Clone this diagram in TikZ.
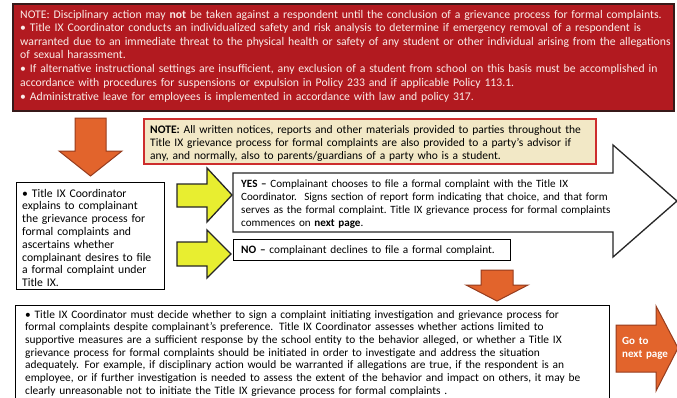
\documentclass[tikz,border=0pt]{standalone}
\usepackage{fontspec}
\setmainfont{Carlito}
\definecolor{boxred}{RGB}{178,26,32}
\definecolor{boxredborder}{RGB}{55,25,25}
\definecolor{notefill}{RGB}{242,232,198}
\definecolor{noteborder}{RGB}{205,45,45}
\definecolor{arroworange}{RGB}{226,100,44}
\definecolor{orangeborder}{RGB}{150,60,30}
\definecolor{arrowyellow}{RGB}{232,238,48}
\definecolor{redtext}{RGB}{250,236,232}
\begin{document}
\begin{tikzpicture}[x=1pt,y=-1pt,
  txt/.style={inner sep=0pt, anchor=base west, align=left, text width=#1},
  txt/.default=900pt,
  panel/.style={draw=black, line width=1.3pt, fill=white, inner sep=0pt, anchor=north west},
  blockarrow/.style={line width=1pt, line join=miter},
  orangearrow/.style={blockarrow, fill=arroworange, draw=orangeborder},
  yellowarrow/.style={blockarrow, fill=arrowyellow, draw=black!85, line width=1.3pt},
  redfont/.style={font=\fontsize{11.7}{13.6}\selectfont},
  bodyfont/.style={font=\fontsize{11.5}{13.1}\selectfont}]
\useasboundingbox (0,0) rectangle (677,397);
\fill[white] (0,0) rectangle (677,397);

% top red note
\node[panel, draw=boxredborder, fill=boxred, line width=1.6pt,
      minimum width=661pt, minimum height=107pt] (red) at (12,3) {};
\node[txt, redfont, text=redtext] (redtxt) at (20,18)
{NOTE: Disciplinary action may \textbf{not} be taken against a respondent until the conclusion of a grievance process for formal complaints.\\
• Title IX Coordinator conducts an individualized safety and risk analysis to determine if emergency removal of a respondent is\\
warranted due to an immediate threat to the physical health or safety of any student or other individual arising from the allegations\\
of sexual harassment.\\[0.5pt]
• If alternative instructional settings are insufficient, any exclusion of a student from school on this basis must be accomplished in\\
accordance with procedures for suspensions or expulsion in Policy 233 and if applicable Policy 113.1.\\[0.5pt]
• Administrative leave for employees is implemented in accordance with law and policy 317.};

% orange arrow below red box
\draw[orangearrow] (75,118) -- (106,118) -- (106,151) -- (122,151) -- (90.5,176)
  -- (59,151) -- (75,151) -- cycle;

% advisor note
\node[panel, draw=noteborder, fill=notefill, line width=2pt,
      minimum width=452pt, minimum height=45pt] (note) at (143,118) {};
\node[txt, bodyfont] (notetxt) at (150,133)
{\textbf{NOTE:} All written notices, reports and other materials provided to parties throughout the\\
Title IX grievance process for formal complaints are also provided to a party’s advisor if\\
any, and normally, also to parents/guardians of a party who is a student.};

% left box
\node[panel, minimum width=148pt, minimum height=107pt] (left) at (16,182) {};
\node[txt, font=\fontsize{11.7}{12.8}\selectfont] (lefttxt) at (22,197)
{• Title IX Coordinator\\
explains to complainant\\
the grievance process for\\
formal complaints and\\
ascertains whether\\
complainant desires to file\\
a formal complaint under\\
Title IX.};

% yellow arrows
\draw[yellowarrow] (177,184) -- (207,184) -- (207,168) -- (232,195) -- (207,222)
  -- (207,207) -- (177,207) -- cycle;
\draw[yellowarrow] (177,242) -- (207,242) -- (207,230) -- (231,254) -- (207,278)
  -- (207,266) -- (177,266) -- cycle;

% big white arrow with YES text
\draw[blockarrow, draw=black!85, line width=1.3pt, fill=white]
  (233,173) -- (613,173) -- (613,145) -- (677,201) -- (613,257) -- (613,232)
  -- (233,232) -- cycle;
\node[txt, font=\fontsize{11.1}{13.3}\selectfont] (yestxt) at (241,187)
{\textbf{YES –} Complainant chooses to file a formal complaint with the Title IX\\
Coordinator.\ \ Signs section of report form indicating that choice, and that form\\
serves as the formal complaint.\ Title IX grievance process for formal complaints\\
commences on \textbf{next page}.};

% NO box
\node[panel, minimum width=277pt, minimum height=21pt] (no) at (233,239) {};
\node[txt, font=\fontsize{11.3}{13.2}\selectfont] (notxt) at (241,253)
{\textbf{NO –} complainant declines to file a formal complaint.};

% small orange arrow
\draw[orangearrow] (481,270) -- (513,270) -- (513,285) -- (528,285) -- (497,301)
  -- (466,285) -- (481,285) -- cycle;

% bottom box
\node[panel, minimum width=594pt, minimum height=95pt] (bottom) at (15,305) {};
\node[txt, font=\fontsize{11.4}{12.7}\selectfont] (bottomtxt) at (25,318)
{• Title IX Coordinator must decide whether to sign a complaint initiating investigation and grievance process for\\
formal complaints despite complainant’s preference. Title IX Coordinator assesses whether actions limited to\\
supportive measures are a sufficient response by the school entity to the behavior alleged, or whether a Title IX\\
grievance process for formal complaints should be initiated in order to investigate and address the situation\\
adequately. For example, if disciplinary action would be warranted if allegations are true, if the respondent is an\\
employee, or if further investigation is needed to assess the extent of the behavior and impact on others, it may be\\
clearly unreasonable not to initiate the Title IX grievance process for formal complaints .};

% go to next page arrow
\draw[orangearrow] (616,325) -- (656,325) -- (656,306) -- (678,348) -- (656,391)
  -- (656,372) -- (616,372) -- cycle;
\node[txt, text=white, font=\bfseries\fontsize{11}{13}\selectfont] (gototxt) at (622,344)
{Go to\\next page};
\end{tikzpicture}
\end{document}
